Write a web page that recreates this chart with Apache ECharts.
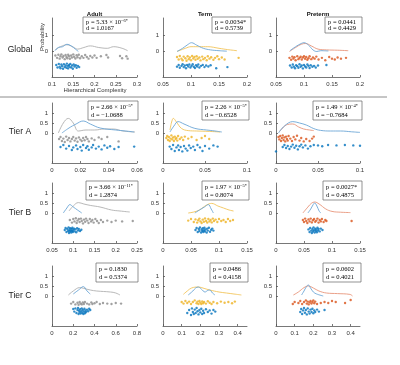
<!DOCTYPE html>
<html><head><meta charset="utf-8">
<script src="https://cdn.jsdelivr.net/npm/echarts@6/dist/echarts.min.js"></script>
<style>html,body{margin:0;padding:0;background:#fff}#c{width:400px;height:365px}</style>
</head><body><div id="c"></div><script>
// ---------- labels ----------
const rowNames = ['Global', 'Tier A', 'Tier B', 'Tier C'];
const colNames = ['Adult', 'Term', 'Preterm'];
// ---------- axes ----------
const xRangeGlobal = [[0.1, 0.3], [0.05, 0.2], [0.05, 0.2]];
const xRangeTierA = [[0, 0.06], [0, 0.1], [0, 0.1]];
const xRangeTierB = [[0.05, 0.25], [0, 0.15], [0, 0.15]];
const xRangeTierC = [[0, 0.8], [0, 0.45], [0, 0.45]];
const xTicksGlobal = [[0.1, 0.15, 0.2, 0.25, 0.3], [0.05, 0.1, 0.15, 0.2], [0.05, 0.1, 0.15, 0.2]];
const xTicksTierA = [[0, 0.02, 0.04, 0.06], [0, 0.05, 0.1], [0, 0.05, 0.1]];
const xTicksTierB = [[0.05, 0.1, 0.15, 0.2, 0.25], [0, 0.05, 0.1, 0.15], [0, 0.05, 0.1, 0.15]];
const xTicksTierC = [[0, 0.2, 0.4, 0.6, 0.8], [0, 0.1, 0.2, 0.3, 0.4], [0, 0.1, 0.2, 0.3, 0.4]];
const yRangeGlobal = [-1.6, 2.1];
const yRangeTier = [-1.5, 1.5];
const yTicksGlobal = [0, 1];
const yTicksTier = [0, 0.5, 1];
// ---------- statistics ----------
const pTexts = [
  ['{n|p = 5.33 × 10}{s|−6*}', '{n|p = 0.0034*}', '{n|p = 0.0441}'],
  ['{n|p = 2.66 × 10}{s|−5*}', '{n|p = 2.26 × 10}{s|−5*}', '{n|p = 1.49 × 10}{s|−4*}'],
  ['{n|p = 3.66 × 10}{s|−11*}', '{n|p = 1.97 × 10}{s|−5*}', '{n|p = 0.0027*}'],
  ['{n|p = 0.1830}', '{n|p = 0.0486}', '{n|p = 0.0602}']
];
const dTexts = [
  ['d = 1.0167', 'd = 0.5739', 'd = 0.4429'],
  ['d = −1.0688', 'd = −0.6528', 'd = −0.7684'],
  ['d = 1.2874', 'd = 0.8074', 'd = 0.4875'],
  ['d = 0.5374', 'd = 0.4158', 'd = 0.4021']
];
// ---------- density curves ----------
const gAdultCurve = [[0.107,0.1],[0.12,0.3],[0.135,0.42],[0.15,0.28],[0.16,0.15],[0.175,0.25],[0.19,0.35],[0.21,0.25],[0.23,0.2],[0.245,0.3],[0.265,0.2],[0.278,0.05]];
const gAdultBlueCurve = [[0.107,0.05],[0.115,0.25],[0.125,0.3],[0.135,0.45],[0.145,0.35],[0.155,0.15],[0.162,0.0]];
const gTermCurve = [[0.075,0.0],[0.09,0.2],[0.1,0.3],[0.115,0.3],[0.13,0.3],[0.15,0.2],[0.165,0.12],[0.182,0.05]];
const gTermBlueCurve = [[0.075,0.0],[0.085,0.2],[0.093,0.4],[0.101,0.55],[0.11,0.4],[0.122,0.2],[0.135,0.1],[0.15,0.05],[0.164,0.02]];
const gPreCurve = [[0.074,0.0],[0.085,0.25],[0.095,0.45],[0.103,0.5],[0.113,0.35],[0.125,0.15],[0.14,0.1],[0.16,0.08],[0.179,0.05]];
const gPreBlueCurve = [[0.075,0.05],[0.085,0.3],[0.095,0.5],[0.1,0.55],[0.108,0.4],[0.116,0.1],[0.123,0.0],[0.13,0.05],[0.1435,0.03]];

const aAdultCurve = [[0.0045,0.0],[0.008,0.5],[0.0115,0.73],[0.015,0.5],[0.0186,0.1],[0.024,0.15],[0.03,0.15],[0.037,0.2],[0.0433,0.2],[0.05,0.1],[0.0586,0.05]];
const aAdultBlueCurve = [[0.007,0.0],[0.012,0.25],[0.017,0.45],[0.022,0.6],[0.027,0.45],[0.034,0.25],[0.045,0.15],[0.052,0.1],[0.058,0.05]];
const aTermCurve = [[0.0083,0.15],[0.0103,0.55],[0.0123,0.73],[0.016,0.55],[0.022,0.23],[0.03,0.12],[0.04,0.1],[0.055,0.08],[0.068,0.05]];
const aTermBlueCurve = [[0.0083,0.05],[0.013,0.35],[0.018,0.57],[0.025,0.45],[0.038,0.23],[0.052,0.15],[0.062,0.1],[0.07,0.05]];
const aPreCurve = [[0.004,0.07],[0.008,0.25],[0.012,0.4],[0.02,0.45],[0.027,0.3],[0.033,0.2],[0.04,0.15],[0.045,0.12]];
const aPreBlueCurve = [[0.003,0.0],[0.01,0.35],[0.02,0.57],[0.028,0.5],[0.036,0.4],[0.045,0.22],[0.053,0.13],[0.065,0.1],[0.077,0.1],[0.09,0.06],[0.1,0.03]];

const bAdultCurve = [[0.09,0.1],[0.1,0.35],[0.112,0.52],[0.125,0.45],[0.14,0.38],[0.163,0.3],[0.19,0.15],[0.21,0.1],[0.233,0.05]];
const bAdultBlueCurve = [[0.0766,0.0],[0.085,0.25],[0.092,0.42],[0.1,0.3],[0.11,0.15],[0.12,0.0]];
const bTermCurve = [[0.045,0.0],[0.055,0.05],[0.065,0.15],[0.078,0.4],[0.087,0.48],[0.098,0.35],[0.108,0.25],[0.118,0.15],[0.126,0.1]];
const bTermBlueCurve = [[0.057,0.0],[0.065,0.15],[0.074,0.3],[0.081,0.42],[0.086,0.2],[0.09,0.0]];
const bPreCurve = [[0.048,0.0],[0.057,0.3],[0.063,0.48],[0.069,0.55],[0.077,0.45],[0.089,0.2],[0.1,0.08],[0.115,0.04],[0.133,0.02]];
const bPreBlueCurve = [[0.057,0.0],[0.062,0.2],[0.066,0.4],[0.069,0.5],[0.073,0.35],[0.077,0.1],[0.08,0.0]];

const cAdultCurve = [[0.154,0.05],[0.2,0.25],[0.26,0.42],[0.3,0.38],[0.36,0.3],[0.42,0.25],[0.55,0.2],[0.6,0.15],[0.64,0.05]];
const cAdultBlueCurve = [[0.2,0.1],[0.25,0.3],[0.295,0.47],[0.33,0.25],[0.36,0.1]];
const cTermCurve = [[0.109,0.08],[0.13,0.25],[0.153,0.4],[0.189,0.45],[0.22,0.38],[0.25,0.3],[0.3,0.2],[0.34,0.15],[0.38,0.1],[0.42,0.05]];
const cTermBlueCurve = [[0.135,0.05],[0.16,0.25],[0.175,0.4],[0.189,0.45],[0.205,0.35],[0.225,0.2],[0.24,0.28],[0.25,0.3],[0.265,0.15],[0.278,0.05]];
const cPreCurve = [[0.093,0.05],[0.12,0.2],[0.15,0.42],[0.173,0.5],[0.2,0.4],[0.23,0.25],[0.27,0.15],[0.33,0.12],[0.396,0.08],[0.41,0.0]];
const cPreBlueCurve = [[0.137,0.05],[0.15,0.25],[0.162,0.45],[0.173,0.55],[0.185,0.4],[0.2,0.2],[0.218,0.1],[0.253,0.0]];
// ---------- raw points (value, jitter row) ----------
const gAdultPts = [[0.108,-0.25],[0.112,-0.4],[0.115,-0.2],[0.118,-0.45],[0.12,-0.3],[0.122,-0.18],[0.125,-0.38],[0.127,-0.28],[0.13,-0.48],[0.132,-0.22],[0.134,-0.35],[0.136,-0.42],[0.138,-0.2],[0.14,-0.3],[0.142,-0.46],[0.145,-0.25],[0.147,-0.38],[0.15,-0.18],[0.152,-0.33],[0.155,-0.44],[0.158,-0.24],[0.16,-0.36],[0.163,-0.2],[0.166,-0.42],[0.17,-0.3],[0.174,-0.4],[0.178,-0.22],[0.182,-0.35],[0.186,-0.45],[0.19,-0.28],[0.195,-0.38],[0.2,-0.25],[0.205,-0.4],[0.215,-0.3],[0.228,-0.22],[0.232,-0.38],[0.26,-0.28],[0.265,-0.42],[0.275,-0.3],[0.278,-0.45]];
const gAdultBluePts = [[0.11,-0.85],[0.113,-1.0],[0.116,-0.78],[0.118,-0.95],[0.12,-1.05],[0.122,-0.82],[0.124,-0.92],[0.126,-1.08],[0.128,-0.8],[0.13,-0.98],[0.132,-0.88],[0.134,-1.02],[0.135,-0.76],[0.137,-0.9],[0.138,-1.06],[0.14,-0.84],[0.141,-0.96],[0.143,-0.78],[0.145,-1.0],[0.147,-0.88],[0.149,-1.08],[0.151,-0.82],[0.153,-0.94],[0.156,-0.86],[0.158,-1.02],[0.161,-0.9],[0.164,-0.98]];
const gTermPts = [[0.075,-0.35],[0.078,-0.5],[0.08,-0.28],[0.083,-0.45],[0.085,-0.55],[0.087,-0.32],[0.09,-0.42],[0.092,-0.58],[0.094,-0.3],[0.096,-0.48],[0.098,-0.38],[0.1,-0.55],[0.102,-0.28],[0.104,-0.44],[0.106,-0.35],[0.108,-0.52],[0.11,-0.3],[0.112,-0.46],[0.115,-0.38],[0.117,-0.56],[0.12,-0.32],[0.122,-0.48],[0.125,-0.4],[0.128,-0.55],[0.13,-0.3],[0.133,-0.45],[0.136,-0.36],[0.14,-0.52],[0.143,-0.4],[0.147,-0.3],[0.15,-0.48],[0.155,-0.38],[0.16,-0.5],[0.185,-0.4]];
const gTermBluePts = [[0.075,-0.95],[0.078,-0.85],[0.08,-1.02],[0.083,-0.9],[0.085,-0.8],[0.087,-0.98],[0.089,-0.88],[0.091,-1.05],[0.093,-0.84],[0.095,-0.94],[0.097,-0.82],[0.099,-1.0],[0.101,-0.9],[0.103,-0.8],[0.105,-0.96],[0.107,-1.04],[0.109,-0.86],[0.111,-0.94],[0.113,-0.82],[0.115,-1.0],[0.118,-0.9],[0.121,-0.84],[0.124,-0.98],[0.127,-0.88],[0.131,-0.94],[0.135,-0.86],[0.145,-1.05],[0.165,-0.98]];
const gPrePts = [[0.074,-0.4],[0.077,-0.52],[0.079,-0.32],[0.081,-0.45],[0.083,-0.36],[0.085,-0.55],[0.088,-0.3],[0.09,-0.48],[0.092,-0.4],[0.094,-0.33],[0.096,-0.5],[0.098,-0.38],[0.1,-0.3],[0.102,-0.46],[0.104,-0.35],[0.106,-0.52],[0.108,-0.42],[0.11,-0.3],[0.113,-0.48],[0.116,-0.38],[0.119,-0.45],[0.122,-0.32],[0.126,-0.5],[0.132,-0.4],[0.138,-0.55],[0.145,-0.35],[0.15,-0.45],[0.155,-0.5],[0.16,-0.38],[0.166,-0.45],[0.175,-0.4]];
const gPreBluePts = [[0.075,-0.88],[0.078,-1.0],[0.08,-0.82],[0.082,-0.95],[0.084,-1.05],[0.086,-0.86],[0.088,-0.92],[0.09,-1.02],[0.092,-0.8],[0.094,-0.96],[0.096,-0.88],[0.098,-1.06],[0.1,-0.84],[0.102,-0.94],[0.104,-1.0],[0.106,-0.82],[0.108,-0.9],[0.11,-1.04],[0.112,-0.86],[0.115,-0.96],[0.118,-0.9],[0.121,-1.0],[0.125,-0.88],[0.14,-0.85]];

const aAdultPts = [[0.005,-0.3],[0.006,-0.2],[0.007,-0.4],[0.008,-0.28],[0.009,-0.45],[0.01,-0.18],[0.011,-0.35],[0.012,-0.25],[0.013,-0.42],[0.014,-0.3],[0.015,-0.2],[0.016,-0.38],[0.017,-0.27],[0.018,-0.44],[0.019,-0.22],[0.02,-0.33],[0.021,-0.4],[0.022,-0.25],[0.023,-0.36],[0.024,-0.2],[0.025,-0.3],[0.026,-0.42],[0.028,-0.27],[0.03,-0.35],[0.033,-0.22],[0.035,-0.3],[0.039,-0.2],[0.047,-0.42]];
const aAdultBluePts = [[0.006,-0.7],[0.008,-0.6],[0.01,-0.78],[0.012,-0.65],[0.014,-0.85],[0.015,-0.72],[0.017,-0.62],[0.018,-0.8],[0.02,-0.7],[0.021,-0.88],[0.022,-0.6],[0.024,-0.75],[0.025,-0.66],[0.026,-0.84],[0.028,-0.72],[0.029,-0.6],[0.031,-0.78],[0.033,-0.68],[0.035,-0.82],[0.037,-0.62],[0.039,-0.74],[0.041,-0.66],[0.044,-0.8],[0.047,-0.7],[0.058,-0.68]];
const aTermPts = [[0.004,-0.25],[0.005,-0.15],[0.006,-0.35],[0.007,-0.2],[0.008,-0.4],[0.009,-0.28],[0.01,-0.12],[0.011,-0.32],[0.012,-0.22],[0.013,-0.4],[0.014,-0.18],[0.015,-0.3],[0.016,-0.25],[0.017,-0.38],[0.018,-0.15],[0.02,-0.3],[0.022,-0.22],[0.024,-0.35],[0.026,-0.18],[0.03,-0.28],[0.034,-0.2],[0.04,-0.35],[0.046,-0.25],[0.05,-0.15],[0.055,-0.3]];
const aTermBluePts = [[0.008,-0.68],[0.01,-0.8],[0.012,-0.6],[0.014,-0.9],[0.016,-0.72],[0.018,-0.62],[0.019,-0.85],[0.021,-0.7],[0.023,-0.92],[0.025,-0.65],[0.027,-0.78],[0.029,-0.88],[0.031,-0.62],[0.033,-0.75],[0.036,-0.68],[0.038,-0.85],[0.041,-0.6],[0.044,-0.72],[0.047,-0.9],[0.05,-0.65],[0.055,-0.78],[0.06,-0.62],[0.065,-0.68]];
const aPrePts = [[0.003,-0.2],[0.004,-0.32],[0.005,-0.15],[0.006,-0.4],[0.007,-0.25],[0.008,-0.12],[0.009,-0.35],[0.01,-0.22],[0.011,-0.42],[0.012,-0.18],[0.013,-0.3],[0.014,-0.38],[0.015,-0.15],[0.017,-0.28],[0.019,-0.4],[0.021,-0.2],[0.023,-0.32],[0.025,-0.14],[0.028,-0.38],[0.03,-0.25],[0.033,-0.42],[0.036,-0.3],[0.04,-0.4],[0.043,-0.28],[0.045,-0.18]];
const aPreBluePts = [[0,-0.92],[0.008,-0.7],[0.01,-0.6],[0.012,-0.75],[0.014,-0.65],[0.016,-0.8],[0.018,-0.68],[0.02,-0.58],[0.022,-0.74],[0.024,-0.64],[0.026,-0.82],[0.028,-0.66],[0.03,-0.58],[0.032,-0.72],[0.035,-0.62],[0.038,-0.78],[0.041,-0.66],[0.045,-0.6],[0.05,-0.62],[0.055,-0.66],[0.062,-0.6],[0.072,-0.62],[0.082,-0.6],[0.092,-0.62],[0.1,-0.64]];

const bAdultPts = [[0.092,-0.35],[0.097,-0.48],[0.1,-0.3],[0.103,-0.42],[0.106,-0.26],[0.108,-0.5],[0.11,-0.38],[0.113,-0.3],[0.115,-0.45],[0.118,-0.28],[0.12,-0.4],[0.123,-0.52],[0.125,-0.33],[0.128,-0.44],[0.13,-0.28],[0.133,-0.38],[0.136,-0.5],[0.139,-0.3],[0.142,-0.42],[0.145,-0.35],[0.148,-0.48],[0.152,-0.3],[0.156,-0.4],[0.16,-0.5],[0.165,-0.35],[0.17,-0.45],[0.18,-0.38],[0.19,-0.45],[0.2,-0.38],[0.215,-0.42],[0.24,-0.4]];
const bAdultBluePts = [[0.08,-0.85],[0.082,-0.75],[0.084,-0.95],[0.086,-0.8],[0.088,-0.9],[0.089,-0.72],[0.09,-1.0],[0.091,-0.84],[0.092,-0.92],[0.093,-0.76],[0.094,-0.88],[0.095,-0.98],[0.096,-0.8],[0.097,-0.9],[0.098,-0.74],[0.099,-0.95],[0.1,-0.85],[0.102,-0.78],[0.103,-0.92],[0.105,-0.82],[0.107,-0.96],[0.109,-0.76],[0.111,-0.88],[0.113,-0.8],[0.116,-0.9],[0.119,-0.84]];
const bTermPts = [[0.045,-0.38],[0.05,-0.3],[0.055,-0.45],[0.058,-0.32],[0.061,-0.48],[0.063,-0.36],[0.065,-0.28],[0.067,-0.42],[0.069,-0.5],[0.071,-0.33],[0.073,-0.44],[0.075,-0.27],[0.077,-0.4],[0.079,-0.48],[0.081,-0.3],[0.083,-0.42],[0.085,-0.35],[0.087,-0.47],[0.089,-0.28],[0.091,-0.4],[0.094,-0.33],[0.097,-0.45],[0.1,-0.3],[0.104,-0.4],[0.108,-0.35],[0.112,-0.45],[0.116,-0.3],[0.12,-0.4],[0.125,-0.35]];
const bTermBluePts = [[0.058,-0.85],[0.06,-0.75],[0.062,-0.95],[0.064,-0.8],[0.065,-0.9],[0.066,-0.72],[0.068,-0.98],[0.069,-0.82],[0.07,-0.9],[0.071,-0.76],[0.072,-0.95],[0.073,-0.86],[0.074,-0.74],[0.075,-0.92],[0.076,-0.82],[0.078,-0.98],[0.079,-0.78],[0.08,-0.88],[0.082,-0.74],[0.084,-0.94],[0.086,-0.84],[0.088,-0.78],[0.09,-0.88]];
const bPrePts = [[0.048,-0.35],[0.05,-0.45],[0.052,-0.28],[0.054,-0.4],[0.056,-0.5],[0.058,-0.32],[0.06,-0.42],[0.062,-0.28],[0.064,-0.47],[0.066,-0.36],[0.068,-0.3],[0.07,-0.44],[0.072,-0.38],[0.074,-0.28],[0.076,-0.48],[0.078,-0.35],[0.08,-0.42],[0.082,-0.3],[0.085,-0.45],[0.088,-0.35],[0.09,-0.4],[0.135,-0.4]];
const bPreBluePts = [[0.058,-0.82],[0.06,-0.95],[0.061,-0.75],[0.063,-0.88],[0.064,-1.0],[0.065,-0.8],[0.066,-0.92],[0.067,-0.72],[0.068,-0.86],[0.069,-0.98],[0.07,-0.78],[0.071,-0.9],[0.072,-0.82],[0.073,-0.96],[0.074,-0.74],[0.075,-0.88],[0.076,-0.8],[0.078,-0.92],[0.08,-0.78],[0.083,-0.85]];

const cAdultPts = [[0.18,-0.38],[0.2,-0.3],[0.22,-0.42],[0.24,-0.34],[0.25,-0.44],[0.26,-0.3],[0.27,-0.38],[0.28,-0.42],[0.29,-0.32],[0.3,-0.4],[0.31,-0.3],[0.33,-0.38],[0.35,-0.42],[0.37,-0.32],[0.38,-0.4],[0.4,-0.36],[0.42,-0.3],[0.45,-0.4],[0.48,-0.35],[0.52,-0.38],[0.56,-0.4],[0.6,-0.35],[0.65,-0.38]];
const cAdultBluePts = [[0.2,-0.65],[0.21,-0.78],[0.22,-0.62],[0.23,-0.85],[0.24,-0.7],[0.245,-0.6],[0.25,-0.9],[0.255,-0.74],[0.26,-0.82],[0.265,-0.66],[0.27,-0.88],[0.275,-0.76],[0.28,-0.62],[0.285,-0.84],[0.29,-0.7],[0.295,-0.9],[0.3,-0.78],[0.305,-0.64],[0.31,-0.86],[0.315,-0.72],[0.32,-0.8],[0.33,-0.68],[0.34,-0.76],[0.35,-0.64],[0.36,-0.7]];
const cTermPts = [[0.1,-0.3],[0.11,-0.38],[0.12,-0.25],[0.13,-0.35],[0.14,-0.28],[0.15,-0.4],[0.16,-0.3],[0.17,-0.22],[0.18,-0.36],[0.185,-0.28],[0.19,-0.4],[0.195,-0.25],[0.2,-0.33],[0.205,-0.4],[0.21,-0.27],[0.215,-0.36],[0.22,-0.3],[0.23,-0.38],[0.24,-0.26],[0.25,-0.34],[0.26,-0.4],[0.27,-0.3],[0.29,-0.36],[0.31,-0.28],[0.33,-0.34],[0.35,-0.3],[0.37,-0.36],[0.385,-0.28]];
const cTermBluePts = [[0.13,-0.85],[0.14,-0.7],[0.15,-0.95],[0.155,-0.62],[0.16,-0.8],[0.165,-0.9],[0.17,-0.68],[0.175,-0.85],[0.18,-0.6],[0.185,-0.76],[0.19,-0.92],[0.195,-0.7],[0.2,-0.82],[0.205,-0.64],[0.21,-0.9],[0.215,-0.74],[0.22,-0.85],[0.23,-0.66],[0.24,-0.8],[0.25,-0.72],[0.26,-0.88],[0.27,-0.7],[0.28,-0.78]];
const cPrePts = [[0.09,-0.4],[0.1,-0.3],[0.12,-0.35],[0.13,-0.25],[0.14,-0.4],[0.15,-0.3],[0.16,-0.22],[0.165,-0.38],[0.17,-0.28],[0.175,-0.42],[0.18,-0.32],[0.185,-0.25],[0.19,-0.38],[0.195,-0.3],[0.2,-0.22],[0.205,-0.36],[0.21,-0.28],[0.22,-0.4],[0.24,-0.35],[0.26,-0.3],[0.28,-0.35],[0.3,-0.25],[0.32,-0.3],[0.37,-0.35],[0.4,-0.2]];
const cPreBluePts = [[0.13,-0.8],[0.135,-0.65],[0.14,-0.9],[0.145,-0.72],[0.15,-0.6],[0.155,-0.84],[0.16,-0.7],[0.165,-0.92],[0.17,-0.62],[0.175,-0.78],[0.18,-0.88],[0.185,-0.68],[0.19,-0.8],[0.195,-0.64],[0.2,-0.86],[0.205,-0.72],[0.21,-0.8],[0.22,-0.68],[0.23,-0.78],[0.26,-0.7]];

// ---------- assembly ----------
const curves = [
  [[gAdultCurve, gAdultBlueCurve], [gTermCurve, gTermBlueCurve], [gPreCurve, gPreBlueCurve]],
  [[aAdultCurve, aAdultBlueCurve], [aTermCurve, aTermBlueCurve], [aPreCurve, aPreBlueCurve]],
  [[bAdultCurve, bAdultBlueCurve], [bTermCurve, bTermBlueCurve], [bPreCurve, bPreBlueCurve]],
  [[cAdultCurve, cAdultBlueCurve], [cTermCurve, cTermBlueCurve], [cPreCurve, cPreBlueCurve]]
];
const points = [
  [[gAdultPts, gAdultBluePts], [gTermPts, gTermBluePts], [gPrePts, gPreBluePts]],
  [[aAdultPts, aAdultBluePts], [aTermPts, aTermBluePts], [aPrePts, aPreBluePts]],
  [[bAdultPts, bAdultBluePts], [bTermPts, bTermBluePts], [bPrePts, bPreBluePts]],
  [[cAdultPts, cAdultBluePts], [cTermPts, cTermBluePts], [cPrePts, cPreBluePts]]
];
const xRanges = [xRangeGlobal, xRangeTierA, xRangeTierB, xRangeTierC];
const xTicks = [xTicksGlobal, xTicksTierA, xTicksTierB, xTicksTierC];

const groupColor = ['#8a8a8a', '#EDB120', '#D95319'];
const curveColor = ['#b0b0b0', '#F2C45A', '#E8957A'];
const blue = '#0072BD', blueCurve = '#6CA6D6';
const colLeft = [52, 163, 276], colW = [85, 84, 84];
const rowTop = [18, 103, 183, 266], rowH = [59, 60, 60, 60];
const boxes = [
  [[83, 17, 55, 16], [212, 17, 39, 16], [325, 17, 37, 16]],
  [[88, 101, 50, 19], [202, 101, 47, 19], [313, 101, 49, 19]],
  [[86, 181, 52, 19], [202, 181, 47, 19], [323, 181, 39, 19]],
  [[96, 263, 42, 19], [210, 263, 38, 19], [323, 263, 38, 19]]
];
const axisCol = '#555', labCol = '#333';
const sans = 'Liberation Sans', serif = 'Liberation Serif';

const grid = [], xAxis = [], yAxis = [], series = [], graphic = [];
for (let r = 0; r < 4; r++) {
  for (let c = 0; c < 3; c++) {
    const i = grid.length;
    grid.push({ left: colLeft[c], top: rowTop[r], width: colW[c], height: rowH[r] });
    xAxis.push({
      gridIndex: i, type: 'value', min: xRanges[r][c][0], max: xRanges[r][c][1],
      axisLine: { show: true, onZero: false, lineStyle: { color: axisCol, width: 0.8 } },
      axisTick: { show: true, inside: true, length: 2, customValues: xTicks[r][c], lineStyle: { color: axisCol, width: 0.8 } },
      axisLabel: { fontSize: 6, color: labCol, fontFamily: sans, margin: 4, customValues: xTicks[r][c] },
      splitLine: { show: false }
    });
    const yr = r === 0 ? yRangeGlobal : yRangeTier;
    const yt = r === 0 ? yTicksGlobal : yTicksTier;
    yAxis.push({
      gridIndex: i, type: 'value', min: yr[0], max: yr[1],
      axisLine: { show: true, onZero: false, lineStyle: { color: axisCol, width: 0.8 } },
      axisTick: { show: true, inside: true, length: 2, customValues: yt, lineStyle: { color: axisCol, width: 0.8 } },
      axisLabel: { fontSize: 6, color: labCol, fontFamily: sans, margin: 4, customValues: yt },
      splitLine: { show: false }
    });
    series.push({ type: 'line', xAxisIndex: i, yAxisIndex: i, data: curves[r][c][0], smooth: 0.4, symbol: 'none',
      lineStyle: { color: curveColor[c], width: 0.9 }, z: 2, silent: true });
    series.push({ type: 'line', xAxisIndex: i, yAxisIndex: i, data: curves[r][c][1], smooth: 0.4, symbol: 'none',
      lineStyle: { color: blueCurve, width: 0.9 }, z: 3, silent: true });
    series.push({ type: 'scatter', xAxisIndex: i, yAxisIndex: i, data: points[r][c][0], symbolSize: 2.4,
      itemStyle: { color: groupColor[c] }, silent: true });
    series.push({ type: 'scatter', xAxisIndex: i, yAxisIndex: i, data: points[r][c][1], symbolSize: 2.4,
      itemStyle: { color: blue }, silent: true });
    const b = boxes[r][c];
    graphic.push({ type: 'rect', shape: { x: b[0], y: b[1], width: b[2], height: b[3] },
      style: { fill: '#fff', stroke: '#666', lineWidth: 0.7 }, z: 10 });
    graphic.push({ type: 'text', x: b[0] + 3, y: b[1] + (r === 0 ? 1.5 : 2.5), z: 11,
      style: { text: pTexts[r][c] + '\n{n|' + dTexts[r][c] + '}', fill: '#000',
        rich: { n: { fontSize: 6.5, fontFamily: serif, lineHeight: r === 0 ? 6.8 : 7.8, fill: '#000' },
                s: { fontSize: 4.5, fontFamily: serif, lineHeight: 4, verticalAlign: 'top', fill: '#000' } } } });
  }
}
// row labels
const rowLabelY = [50, 132, 213, 296];
rowNames.forEach((t, r) => graphic.push({ type: 'text', x: 20, y: rowLabelY[r],
  style: { text: t, fontSize: 8.5, fontFamily: sans, fill: '#222', align: 'center', verticalAlign: 'middle' } }));
// column titles
colNames.forEach((t, c) => graphic.push({ type: 'text', x: colLeft[c] + colW[c] / 2, y: 14,
  style: { text: t, fontSize: 6, fontWeight: 'bold', fontFamily: sans, fill: '#111', align: 'center', verticalAlign: 'middle' } }));
// axis names (first panel)
graphic.push({ type: 'text', x: 42.5, y: 37, rotation: Math.PI / 2,
  style: { text: 'Probability', fontSize: 6, fontFamily: sans, fill: '#333', align: 'center', verticalAlign: 'middle' } });
graphic.push({ type: 'text', x: 95, y: 90,
  style: { text: 'Hierarchical Complexity', fontSize: 6, fontFamily: sans, fill: '#333', align: 'center', verticalAlign: 'middle' } });
// separator
graphic.push({ type: 'line', shape: { x1: 0, y1: 97, x2: 387, y2: 97 }, style: { stroke: '#8c8c8c', lineWidth: 1 } });

const chart = echarts.init(document.getElementById('c'), null, { renderer: 'canvas' });
chart.setOption({ animation: false, backgroundColor: '#fff', grid, xAxis, yAxis, series, graphic });
</script></body></html>
